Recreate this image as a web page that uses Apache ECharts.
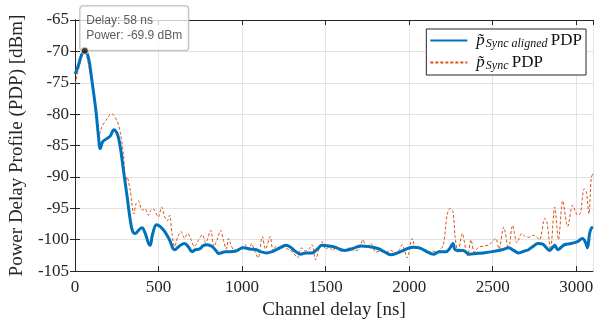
<!DOCTYPE html>
<html><head><meta charset="utf-8">
<script src="https://cdn.jsdelivr.net/npm/echarts@6/dist/echarts.min.js"></script>
<style>html,body{margin:0;padding:0;background:#fff}#c{width:596px;height:325px}</style>
</head><body><div id="c"></div>
<script>
// Channel delay [ns], PDP [dBm]
const alignedPDP = [[0,-73.6],[20,-72.2],[40,-70.5],[58,-69.9],[80,-71.0],[100,-74.5],[125,-79.5],[140,-83.5],[151,-85.5],[165,-84.4],[190,-83.9],[210,-83.5],[233,-82.5],[250,-83.0],[262,-84.0],[275,-86.0],[290,-89.0],[312,-93.2],[330,-96.8],[345,-98.7],[360,-99.0],[380,-98.5],[400,-98.1],[420,-99.0],[440,-100.6],[449,-100.9],[465,-99.0],[488,-97.6],[510,-97.9],[537,-98.7],[565,-100.0],[596,-101.6],[625,-101.0],[655,-100.6],[680,-101.2],[700,-101.9],[720,-101.6],[743,-101.5],[770,-100.9],[790,-100.8],[821,-101.1],[845,-101.8],[860,-102.2],[900,-101.9],[930,-101.9],[960,-101.8],[1008,-101.3],[1050,-101.5],[1086,-101.6],[1110,-101.9],[1145,-102.1],[1180,-101.9],[1204,-101.6],[1240,-101.1],[1262,-100.9],[1290,-101.2],[1312,-101.7],[1351,-102.3],[1380,-102.1],[1419,-102.1],[1450,-101.5],[1478,-100.9],[1520,-101.0],[1556,-101.2],[1615,-101.7],[1674,-101.3],[1710,-101.0],[1760,-101.1],[1812,-101.4],[1850,-101.9],[1890,-102.4],[1949,-101.9],[2000,-101.3],[2027,-101.2],[2060,-101.3],[2086,-101.6],[2145,-102.3],[2180,-101.9],[2220,-101.9],[2245,-101.3],[2262,-100.6],[2275,-101.6],[2300,-101.7],[2321,-101.7],[2360,-102.3],[2400,-102.2],[2439,-102.1],[2498,-101.9],[2556,-101.6],[2596,-101.3],[2625,-101.7],[2655,-102.1],[2690,-101.8],[2714,-101.6],[2745,-101.0],[2772,-100.6],[2800,-100.7],[2815,-101.1],[2841,-101.7],[2860,-101.2],[2871,-100.9],[2890,-101.6],[2910,-101.2],[2929,-100.8],[2969,-100.6],[3008,-100.3],[3037,-99.8],[3055,-100.4],[3067,-101.3],[3080,-99.0],[3090,-98.2],[3100,-98.0]];
const syncPDP = [[0,-75.2],[20,-73.0],[40,-70.8],[53,-70.0],[70,-70.8],[90,-73.5],[115,-77.5],[135,-82.3],[145,-83.3],[160,-82.0],[185,-81.0],[218,-79.9],[253,-81.2],[273,-83.3],[290,-86.5],[302,-90.6],[312,-90.0],[321,-90.9],[331,-92.2],[351,-95.9],[366,-94.2],[380,-93.8],[400,-95.3],[419,-95.1],[439,-96.1],[455,-95.2],[468,-95.1],[498,-96.4],[518,-94.8],[537,-96.4],[552,-97.0],[566,-96.1],[580,-99.0],[596,-101.1],[615,-99.5],[635,-98.7],[655,-99.8],[674,-99.0],[695,-100.0],[714,-101.1],[740,-100.0],[762,-99.2],[782,-100.5],[812,-98.5],[831,-101.1],[850,-100.0],[871,-98.5],[890,-100.3],[905,-101.5],[919,-99.8],[929,-100.5],[945,-101.5],[968,-102.1],[990,-101.3],[1018,-100.8],[1040,-101.5],[1057,-100.6],[1075,-101.8],[1096,-102.9],[1121,-99.5],[1140,-101.5],[1168,-99.5],[1185,-101.8],[1205,-101.0],[1225,-101.5],[1250,-101.2],[1280,-101.6],[1305,-102.0],[1331,-102.9],[1355,-101.3],[1380,-101.8],[1400,-101.5],[1419,-100.8],[1439,-103.2],[1460,-101.5],[1478,-100.3],[1500,-101.5],[1520,-101.2],[1545,-101.8],[1560,-101.0],[1580,-101.5],[1600,-102.0],[1620,-101.5],[1650,-101.3],[1670,-101.8],[1700,-101.5],[1723,-100.0],[1745,-101.3],[1772,-100.6],[1800,-102.0],[1830,-101.8],[1860,-102.0],[1890,-101.7],[1920,-102.2],[1940,-101.7],[1958,-100.8],[1988,-102.9],[2018,-99.8],[2040,-101.5],[2060,-101.0],[2090,-101.8],[2110,-102.2],[2140,-101.8],[2165,-102.0],[2184,-101.6],[2205,-100.8],[2228,-95.9],[2245,-95.0],[2262,-95.5],[2275,-99.5],[2292,-102.1],[2318,-99.0],[2340,-101.8],[2350,-102.6],[2370,-100.0],[2390,-102.0],[2415,-101.2],[2450,-101.0],[2480,-100.8],[2518,-99.8],[2537,-101.5],[2566,-98.0],[2595,-101.5],[2619,-97.7],[2645,-100.5],[2674,-99.0],[2695,-99.5],[2720,-99.6],[2740,-99.3],[2760,-99.5],[2780,-100.0],[2812,-96.6],[2825,-97.2],[2846,-101.6],[2871,-94.8],[2894,-100.0],[2919,-93.8],[2949,-97.9],[2978,-94.5],[2995,-95.5],[3008,-96.1],[3025,-95.8],[3047,-91.9],[3060,-92.3],[3076,-95.9],[3090,-90.1],[3100,-89.5]];
const peakPoint = [[58,-69.9]];
const xTicks = {min: 0, max: 3100, interval: 500};
const yTicks = {min: -105, max: -65, interval: 5};
const xName = 'Channel delay [ns]';
const yName = 'Power Delay Profile (PDP) [dBm]';

const serif = 'Liberation Serif';
const axisCol = '#262626';
const chart = echarts.init(document.getElementById('c'), null, {renderer: 'canvas'});
const baseX = {type: 'value', min: xTicks.min, max: xTicks.max, interval: xTicks.interval};
const baseY = {type: 'value', min: yTicks.min, max: yTicks.max, interval: yTicks.interval};
const plain = function (v) { return String(v); };
chart.setOption({
  animation: false,
  grid: {left: 68, right: 1, top: 20, bottom: 50},
  xAxis: [
    Object.assign({}, baseX, {
      position: 'bottom', name: xName, nameLocation: 'middle', nameGap: 28,
      nameTextStyle: {fontFamily: serif, fontSize: 19, color: axisCol},
      axisLine: {show: true, lineStyle: {color: axisCol, width: 1}},
      axisTick: {show: true, inside: true, length: 5, lineStyle: {color: axisCol}},
      axisLabel: {fontFamily: serif, fontSize: 17, color: axisCol, margin: 8, showMaxLabel: false, formatter: plain},
      splitLine: {show: true, lineStyle: {color: '#e3e3e3', width: 1}}
    }),
    Object.assign({}, baseX, {
      position: 'top',
      axisLine: {show: true, lineStyle: {color: axisCol, width: 1}},
      axisTick: {show: true, inside: true, length: 5, lineStyle: {color: axisCol}},
      axisLabel: {show: false}, splitLine: {show: false}
    })
  ],
  yAxis: [
    Object.assign({}, baseY, {
      position: 'left', name: yName, nameLocation: 'middle', nameGap: 42,
      nameTextStyle: {fontFamily: serif, fontSize: 19, color: axisCol},
      axisLine: {show: true, lineStyle: {color: axisCol, width: 1}},
      axisTick: {show: true, inside: true, length: 5, lineStyle: {color: axisCol}},
      axisLabel: {fontFamily: serif, fontSize: 17, color: axisCol, margin: 6, formatter: plain},
      splitLine: {show: true, lineStyle: {color: '#e3e3e3', width: 1}}
    }),
    Object.assign({}, baseY, {
      position: 'right',
      axisLine: {show: true, lineStyle: {color: axisCol, width: 1}},
      axisTick: {show: true, inside: true, length: 5, lineStyle: {color: axisCol}},
      axisLabel: {show: false}, splitLine: {show: false}
    })
  ],
  legend: {
    data: ['aligned', 'sync'],
    right: 10, top: 29, orient: 'vertical',
    itemWidth: 37, itemHeight: 14, itemGap: 4,
    padding: [3, 4, 3, 3],
    borderColor: axisCol, borderWidth: 1, backgroundColor: '#fff',
    itemStyle: {opacity: 0},
    formatter: function (name) {
      return name === 'aligned' ? '{p|p̃}{s|Sync aligned} {t|PDP}' : '{p|p̃}{s|Sync} {t|PDP}';
    },
    textStyle: {
      color: '#111',
      rich: {
        p: {fontFamily: serif, fontStyle: 'italic', fontSize: 17, color: '#111', padding: [0, 0, 0, 4]},
        s: {fontFamily: serif, fontStyle: 'italic', fontSize: 12, color: '#111', padding: [7, 0, 0, 1]},
        t: {fontFamily: serif, fontSize: 17, color: '#111'}
      }
    }
  },
  series: [
    {
      name: 'sync', type: 'line', data: syncPDP, symbol: 'none', smooth: 0.3,
      xAxisIndex: 0, yAxisIndex: 0,
      lineStyle: {color: '#D95319', width: 1, type: [3, 2]}, itemStyle: {color: '#D95319'}, z: 2
    },
    {
      name: 'aligned', type: 'line', data: alignedPDP, symbol: 'none', smooth: 0.4,
      xAxisIndex: 0, yAxisIndex: 0,
      lineStyle: {color: '#0072BD', width: 3}, itemStyle: {color: '#0072BD'}, z: 3
    },
    {
      name: 'tipBox', type: 'scatter', data: peakPoint, symbolSize: 1,
      xAxisIndex: 0, yAxisIndex: 0, silent: true,
      itemStyle: {color: 'rgba(0,0,0,0)'}, z: 4,
      label: {
        show: true, position: [-4, -44], align: 'left', verticalAlign: 'top',
        formatter: function (p) { return 'Delay: ' + p.value[0] + ' ns\nPower: ' + p.value[1].toFixed(1) + ' dBm'; },
        fontFamily: 'Liberation Sans', fontSize: 12, lineHeight: 15, color: '#333',
        backgroundColor: 'rgba(255,255,255,0.95)', borderColor: '#a8a8a8', borderWidth: 1, borderRadius: 3,
        padding: [7, 6, 7, 6]
      }
    },
    {
      name: 'tipDot', type: 'scatter', data: peakPoint, symbolSize: 7,
      xAxisIndex: 0, yAxisIndex: 0,
      itemStyle: {color: '#1a1a1a', borderColor: '#f2e6a0', borderWidth: 1}, z: 20, zlevel: 1
    }
  ]
});
</script></body></html>
